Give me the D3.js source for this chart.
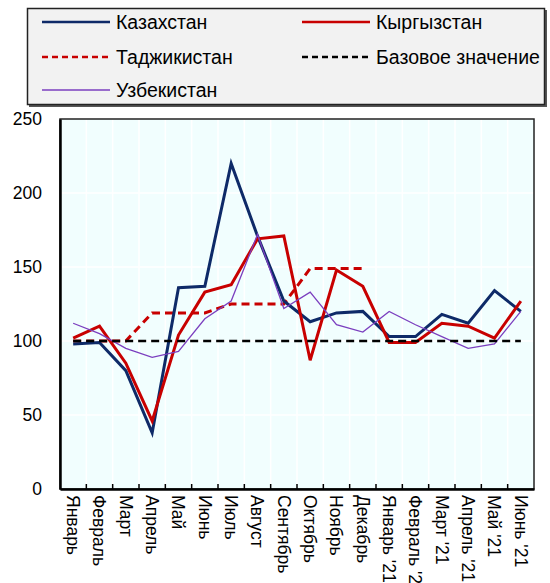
<!DOCTYPE html>
<html>
<head>
<meta charset="utf-8">
<script src="https://cdnjs.cloudflare.com/ajax/libs/d3/7.8.5/d3.min.js"></script>
<style>
  body { margin: 0; background: #fff; }
  text { font-family: "Liberation Sans", Arial, sans-serif; fill: #000; }
</style>
</head>
<body>
<div id="chart"></div>
<script>

var months = ["Январь", "Февраль", "Март", "Апрель", "Май", "Июнь", "Июль", "Август",
  "Сентябрь", "Октябрь", "Ноябрь", "Декабрь", "Январь '21", "Февраль '21", "Март '21",
  "Апрель '21", "Май '21", "Июнь '21"];

var kazakhstan = [98, 99, 80, 38, 136, 137, 220, 171, 127, 113, 119, 120, 103, 103, 118, 112, 134, 120];
var kyrgyzstan = [102, 110, 85, 46, 104, 133, 138, 169, 171, 87, 148, 137, 99, 99, 112, 110, 102, 127];
var tajikistan = [100, 100, 100, 119, 119, 119, 125, 125, 125, 149, 149, 149, null, null, null, null, null, null];
var uzbekistan = [112, 105, 95, 89, 93, 115, 127, 172, 122, 133, 111, 106, 120, 111, 103, 95, 98, 120];
var baseline = [100, 100, 100, 100, 100, 100, 100, 100, 100, 100, 100, 100, 100, 100, 100, 100, 100, 100];

var yTicks = [0, 50, 100, 150, 200, 250];

var margin = {top: 119, right: 16, bottom: 94, left: 60},
    width = 550 - margin.left - margin.right,
    height = 583 - margin.top - margin.bottom;

var svg = d3.select("#chart")
  .append("svg")
    .attr("width", 550)
    .attr("height", 583);

var g = svg.append("g")
    .attr("transform", "translate(" + margin.left + "," + margin.top + ")");

var x = d3.scaleBand().domain(months).range([0, width]);
var y = d3.scaleLinear().domain([0, 250]).range([height, 0]);

// plot background
g.append("rect")
  .attr("width", width)
  .attr("height", height)
  .attr("fill", "#f1fefe");

// white grid lines
g.selectAll(".vgrid")
  .data(months.slice(1))
  .enter().append("line")
    .attr("x1", function(d) { return x(d); })
    .attr("x2", function(d) { return x(d); })
    .attr("y1", 0)
    .attr("y2", height)
    .attr("stroke", "#fff")
    .attr("stroke-width", 1.5);

g.selectAll(".hgrid")
  .data(yTicks.slice(1, -1))
  .enter().append("line")
    .attr("x1", 0)
    .attr("x2", width)
    .attr("y1", function(d) { return y(d); })
    .attr("y2", function(d) { return y(d); })
    .attr("stroke", "#fff")
    .attr("stroke-width", 1.5);

// frame
g.append("rect")
  .attr("width", width)
  .attr("height", height)
  .attr("fill", "none")
  .attr("stroke", "#222")
  .attr("stroke-width", 1.5);

// y axis
var yAxis = g.append("g")
  .call(d3.axisLeft(y).tickValues(yTicks).tickSize(0).tickPadding(18));
yAxis.select(".domain").attr("stroke", "#000").attr("stroke-width", 2.5);
yAxis.selectAll("text").style("font-size", "17.5px");

// x axis with inward ticks on band edges
var xAxis = g.append("g")
  .attr("transform", "translate(0," + height + ")")
  .call(d3.axisBottom(x).tickSize(0).tickPadding(0));
xAxis.select(".domain").attr("stroke", "#000").attr("stroke-width", 2.5);
xAxis.selectAll("text")
  .style("font-size", "17.5px")
  .attr("text-anchor", "start")
  .attr("dy", "0.3em")
  .attr("transform", "translate(-1,6) rotate(90)");

xAxis.selectAll(".edge")
  .data(months.slice(1))
  .enter().append("line")
    .attr("x1", function(d) { return x(d); })
    .attr("x2", function(d) { return x(d); })
    .attr("y1", 0)
    .attr("y2", -5)
    .attr("stroke", "#000")
    .attr("stroke-width", 1.5);

var line = d3.line()
  .defined(function(d) { return d != null; })
  .x(function(d, i) { return x(months[i]) + x.bandwidth() / 2; })
  .y(function(d) { return y(d); });

var series = [
  {name: "Казахстан", values: kazakhstan, color: "#0e2a68", width: 3, dash: null},
  {name: "Кыргызстан", values: kyrgyzstan, color: "#c80000", width: 3, dash: null},
  {name: "Таджикистан", values: tajikistan, color: "#c80000", width: 3, dash: "8,5"},
  {name: "Базовое значение", values: baseline, color: "#000", width: 2.5, dash: "8,5"},
  {name: "Узбекистан", values: uzbekistan, color: "#7b3fbf", width: 1.3, dash: null}
];

var drawOrder = [2, 0, 1, 4, 3];
drawOrder.forEach(function(i) {
  var s = series[i];
  g.append("path")
    .datum(s.values)
    .attr("d", line)
    .attr("fill", "none")
    .attr("stroke", s.color)
    .attr("stroke-width", s.width)
    .attr("stroke-dasharray", s.dash)
    .attr("stroke-linejoin", "miter");
});

// legend
var legend = svg.append("g");
legend.append("rect")
  .attr("x", 29)
  .attr("y", 10)
  .attr("width", 518)
  .attr("height", 97)
  .attr("fill", "#555");
legend.append("rect")
  .attr("x", 27.5)
  .attr("y", 8.5)
  .attr("width", 517)
  .attr("height", 96)
  .attr("fill", "#f2f2f2")
  .attr("stroke", "#222")
  .attr("stroke-width", 1.5);

var legendPos = [
  {x: 42, y: 22}, {x: 302, y: 22},
  {x: 42, y: 57}, {x: 302, y: 57},
  {x: 42, y: 90}
];

series.forEach(function(s, i) {
  var p = legendPos[i];
  var item = legend.append("g").attr("transform", "translate(" + p.x + "," + p.y + ")");
  item.append("line")
    .attr("x1", 0)
    .attr("x2", 68)
    .attr("stroke", s.color)
    .attr("stroke-width", s.width === 3 ? 2.5 : s.width)
    .attr("stroke-dasharray", s.dash ? "6,4" : null);
  item.append("text")
    .attr("x", 74)
    .attr("dy", "0.36em")
    .style("font-size", "19.5px")
    .text(s.name);
});

</script>
</body>
</html>
